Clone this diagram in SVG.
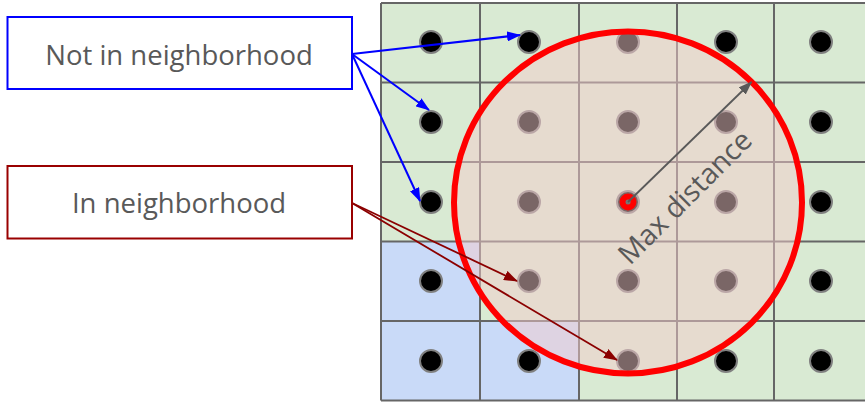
<svg xmlns="http://www.w3.org/2000/svg" width="865" height="402" viewBox="0 0 865 402">
<style>
.g{fill:#d9ead3}
.b{fill:#c9daf8}
.gl{stroke:#666;stroke-width:2;fill:none}
.dot{fill:#000;stroke:#808080;stroke-width:2}
.lbl{font-family:"Open Sans","Liberation Sans",sans-serif;font-size:27.5px;fill:#595959}
.blue{stroke:#0000ff;stroke-width:2;fill:none}
.red{stroke:#8b0000;stroke-width:1.8;fill:none}
</style>
<defs>
<marker id="ab" markerUnits="userSpaceOnUse" markerWidth="14" markerHeight="10" refX="13" refY="5" orient="auto"><path d="M0,0 L14,5 L0,10 z" fill="#0000ff"/></marker>
<marker id="ar" markerUnits="userSpaceOnUse" markerWidth="14" markerHeight="10" refX="13" refY="5" orient="auto"><path d="M0,0 L14,5 L0,10 z" fill="#8b0000"/></marker>
<marker id="ag" markerUnits="userSpaceOnUse" markerWidth="14" markerHeight="10" refX="13" refY="5" orient="auto"><path d="M0,0 L14,5 L0,10 z" fill="#595959"/></marker>
</defs>
<rect width="865" height="402" fill="#fff"/>
<g id="grid">
<rect class="g" x="381" y="3" width="490" height="397.5"/>
<rect class="b" x="381" y="241.5" width="99" height="159"/>
<rect class="b" x="480" y="321" width="99" height="79.5"/>
<path class="gl" d="M381,3V400.5M480,3V400.5M579,3V400.5M677,3V400.5M774,3V400.5M381,3H871M381,82.5H871M381,162H871M381,241.5H871M381,321H871M381,400.5H871"/>
</g>
<g id="dots">
<circle class="dot" cx="431" cy="42" r="11"/><circle class="dot" cx="529" cy="42" r="11"/><circle class="dot" cx="628" cy="42" r="11"/><circle class="dot" cx="726" cy="42" r="11"/><circle class="dot" cx="821" cy="42" r="11"/>
<circle class="dot" cx="431" cy="122" r="11"/><circle class="dot" cx="529" cy="122" r="11"/><circle class="dot" cx="628" cy="122" r="11"/><circle class="dot" cx="726" cy="122" r="11"/><circle class="dot" cx="821" cy="122" r="11"/>
<circle class="dot" cx="431" cy="202" r="11"/><circle class="dot" cx="529" cy="202" r="11"/><circle class="dot" cx="628" cy="202" r="11"/><circle class="dot" cx="726" cy="202" r="11"/><circle class="dot" cx="821" cy="202" r="11"/>
<circle class="dot" cx="431" cy="281" r="11"/><circle class="dot" cx="529" cy="281" r="11"/><circle class="dot" cx="628" cy="281" r="11"/><circle class="dot" cx="726" cy="281" r="11"/><circle class="dot" cx="821" cy="281" r="11"/>
<circle class="dot" cx="431" cy="361" r="11"/><circle class="dot" cx="529" cy="361" r="11"/><circle class="dot" cx="628" cy="361" r="11"/><circle class="dot" cx="726" cy="361" r="11"/><circle class="dot" cx="821" cy="361" r="11"/>
</g>
<g id="neighborhood">
<ellipse cx="628" cy="202.4" rx="174" ry="171" fill="#f4cccc" fill-opacity="0.5" stroke="#ff0000" stroke-width="6"/>
<circle cx="628" cy="202" r="8.5" fill="#ff0000"/>
<circle cx="628" cy="202" r="2.5" fill="#777"/>
</g>
<g id="connectors">
<line class="blue" x1="352" y1="54" x2="520" y2="35" marker-end="url(#ab)"/>
<line class="blue" x1="352" y1="54" x2="429" y2="110" marker-end="url(#ab)"/>
<line class="blue" x1="352" y1="54" x2="420" y2="201" marker-end="url(#ab)"/>
<line class="red" x1="352" y1="203" x2="517" y2="281" marker-end="url(#ar)"/>
<line class="red" x1="352" y1="203" x2="617" y2="360" marker-end="url(#ar)"/>
<line x1="628" y1="202" x2="751.5" y2="82" stroke="#595959" stroke-width="1.8" marker-end="url(#ag)"/>
</g>
<g id="max-distance-label">
<text class="lbl" text-anchor="middle" style="font-size:28.5px" transform="translate(692,204) rotate(-45)">Max distance</text>
</g>
<g id="not-in-neighborhood">
<rect x="7.5" y="17" width="344.5" height="72" fill="#fff" stroke="#0000ff" stroke-width="2"/>
<text class="lbl" x="179" y="65" text-anchor="middle">Not in neighborhood</text>
</g>
<g id="in-neighborhood">
<rect x="7.5" y="166" width="344.5" height="72.5" fill="#fff" stroke="#990000" stroke-width="2"/>
<text class="lbl" x="179" y="213" text-anchor="middle">In neighborhood</text>
</g>
</svg>
